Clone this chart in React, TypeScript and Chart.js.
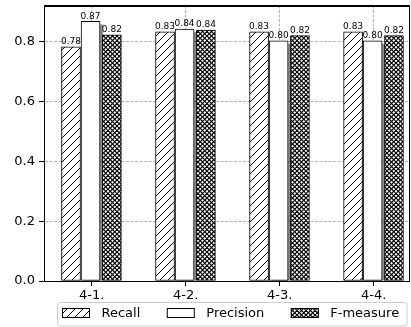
import React, { useEffect, useRef } from "react";
import { Chart, registerables } from "chart.js";

Chart.register(...registerables);

const categories = ["4-1.", "4-2.", "4-3.", "4-4."];
const seriesNames = ["Recall", "Precision", "F-measure"];
const recall = [0.784, 0.834, 0.834, 0.834];
const precision = [0.869, 0.843, 0.804, 0.804];
const fmeasure = [0.824, 0.84, 0.821, 0.821];
const yTicks = [0, 0.2, 0.4, 0.6, 0.8];

// style / layout constants
const groupOffsets = [-0.22, -0.012, 0.215];
const FONT = "DejaVu Sans";
const X_MIN = -0.507;
const X_MAX = 3.38;
const Y_MAX = 0.922;

function makePattern(kind: string): CanvasPattern | string {
  if (kind === "none") return "#ffffff";
  const c = document.createElement("canvas");
  const s = kind === "slash" ? 8 : 9;
  const step = kind === "slash" ? 8 : 4.5;
  c.width = s;
  c.height = s;
  const g = c.getContext("2d")!;
  g.fillStyle = "#ffffff";
  g.fillRect(0, 0, s, s);
  g.strokeStyle = "#000000";
  g.lineWidth = kind === "cross" ? 1.2 : 1.0;
  const line = (x1: number, y1: number, x2: number, y2: number) => {
    g.beginPath();
    g.moveTo(x1, y1);
    g.lineTo(x2, y2);
    g.stroke();
  };
  for (let k = -4; k <= 8; k++) {
    const o = k * step;
    line(o + s, -s, o - s, s);
    if (kind === "cross") {
      line(o - s, -s, o + s, s);
    }
  }
  return g.createPattern(c, "repeat")!;
}

export default function App() {
  const ref = useRef<HTMLCanvasElement>(null);

  useEffect(() => {
    const canvas = ref.current!;
    const fills = [makePattern("slash"), makePattern("none"), makePattern("cross")];
    const values = [recall, precision, fmeasure];

    const shadowPlugin = {
      id: "shadow",
      beforeDatasetDraw(chart: any, args: any) {
        if (args.index !== 1) return;
        const ctx = chart.ctx;
        const a = chart.chartArea;
        ctx.save();
        ctx.beginPath();
        ctx.rect(a.left, a.top, a.right - a.left, a.bottom - a.top);
        ctx.clip();
        ctx.fillStyle = "rgba(0,0,0,0.45)";
        args.meta.data.forEach((el: any) => {
          const p = el.getProps(["x", "y", "base", "width"], true);
          ctx.fillRect(p.x - p.width / 2 + 3, p.y + 3, p.width, p.base - p.y - 3);
        });
        ctx.restore();
      },
    };

    const labelPlugin = {
      id: "labels",
      afterDatasetsDraw(chart: any) {
        const ctx = chart.ctx;
        ctx.save();
        ctx.font = `9px "${FONT}"`;
        ctx.fillStyle = "#000";
        ctx.textAlign = "center";
        ctx.textBaseline = "bottom";
        chart.data.datasets.forEach((ds: any, i: number) => {
          const meta = chart.getDatasetMeta(i);
          meta.data.forEach((el: any, j: number) => {
            const v = values[i][j];
            ctx.fillText(v.toFixed(2), el.x, el.y - 0.5);
          });
        });
        ctx.restore();
      },
    };

    const legendPlugin = {
      id: "customLegend",
      afterDraw(chart: any) {
        const ctx = chart.ctx;
        const a = chart.chartArea;
        ctx.save();
        ctx.setLineDash([]);
        // top and right spines
        ctx.fillStyle = "#000000";
        const L = Math.round(a.left), T = Math.round(a.top), R = Math.round(a.right), B = Math.round(a.bottom);
        ctx.fillRect(L, T, R - L, 1);
        ctx.fillRect(R - 1, T, 1, B - T);

        const boxL = 57.5, boxT = 302.5, boxW = 349.5, boxH = 23.5, r = 3;
        ctx.fillStyle = "rgba(255,255,255,0.85)";
        ctx.strokeStyle = "#cccccc";
        ctx.lineWidth = 1;
        ctx.beginPath();
        ctx.roundRect(boxL, boxT, boxW, boxH, r);
        ctx.fill();
        ctx.stroke();
        ctx.font = `13px "${FONT}"`;
        ctx.textBaseline = "middle";
        ctx.textAlign = "left";
        let x = 62;
        const cy = 313;
        seriesNames.forEach((name, i) => {
          ctx.fillStyle = fills[i] as any;
          ctx.fillRect(x, cy - 5, 28, 10);
          ctx.strokeStyle = "#000";
          ctx.strokeRect(x + 0.5, cy - 4.5, 27, 9);
          ctx.fillStyle = "#000";
          ctx.fillText(name, x + 39.5, cy + 0.5);
          x += 39.5 + ctx.measureText(name).width + 26.5;
        });
        ctx.restore();
      },
    };

    const chart = new Chart(canvas, {
      type: "bar",
      data: {
        datasets: seriesNames.map((name, i) => ({
          label: name,
          data: values[i].map((v, j) => ({ x: j + groupOffsets[i], y: v })),
          backgroundColor: fills[i] as any,
          borderColor: "#000",
          borderWidth: 1,
          borderSkipped: false,
          barThickness: 19,
          grouped: false,
        })),
      },
      options: {
        responsive: false,
        animation: false,
        devicePixelRatio: 1,
        layout: { padding: { left: 0, right: 1.5, top: 5.5, bottom: 0 } },
        plugins: {
          legend: { display: false },
          tooltip: { enabled: false },
        },
        scales: {
          x: {
            type: "linear",
            offset: false,
            min: X_MIN,
            max: X_MAX,
            afterBuildTicks: (s: any) => {
              s.ticks = categories.map((_, i) => ({ value: i }));
            },
            ticks: {
              callback: (v: any) => categories[Math.round(Number(v))] ?? "",
              font: { family: FONT, size: 13 },
              color: "#000",
              padding: 2,
              autoSkip: false,
              maxRotation: 0,
            },
            grid: {
              offset: false,
              color: "#b0b0b0",
              lineWidth: 1,
              tickColor: "#000",
              tickLength: 5,
              drawTicks: true,
            },
            border: { color: "#000", width: 1, dash: [3, 1.5] },
            afterFit: (s: any) => {
              s.height = 46;
              s.paddingLeft = 0;
              s.paddingRight = 0;
            },
          } as any,
          xTop: {
            type: "linear",
            position: "top",
            offset: false,
            min: X_MIN,
            max: X_MAX,
            ticks: { display: false },
            grid: { display: false, drawTicks: false },
            border: { display: true, color: "#000", width: 1 },
            afterFit: (s: any) => {
              s.height = 0;
              s.paddingLeft = 0;
              s.paddingRight = 0;
            },
          } as any,
          y: {
            min: 0,
            max: Y_MAX,
            afterBuildTicks: (s: any) => {
              s.ticks = yTicks.map((v) => ({ value: v }));
            },
            ticks: {
              callback: (v: any) => Number(v).toFixed(1),
              font: { family: FONT, size: 13 },
              color: "#000",
              padding: 4,
            },
            grid: {
              color: "#b0b0b0",
              lineWidth: 1,
              tickColor: "#000",
              tickLength: 5,
              drawTicks: true,
            },
            border: { color: "#000", width: 1, dash: [3, 1.5] },
            afterFit: (s: any) => {
              s.width = 44;
              s.paddingTop = 0;
              s.paddingBottom = 0;
            },
          } as any,
          yRight: {
            position: "right",
            min: 0,
            max: Y_MAX,
            ticks: { display: false },
            grid: { display: false, drawTicks: false },
            border: { display: true, color: "#000", width: 1 },
            afterFit: (s: any) => {
              s.width = 0;
              s.paddingTop = 0;
              s.paddingBottom = 0;
            },
          } as any,
        },
      },
      plugins: [shadowPlugin, labelPlugin, legendPlugin],
    });
    return () => chart.destroy();
  }, []);

  return (
    <div style={{ position: "fixed", left: 0, top: 0, width: 411, height: 327, background: "#fff" }}>
      <canvas ref={ref} width={411} height={327} style={{ display: "block" }} />
    </div>
  );
}
